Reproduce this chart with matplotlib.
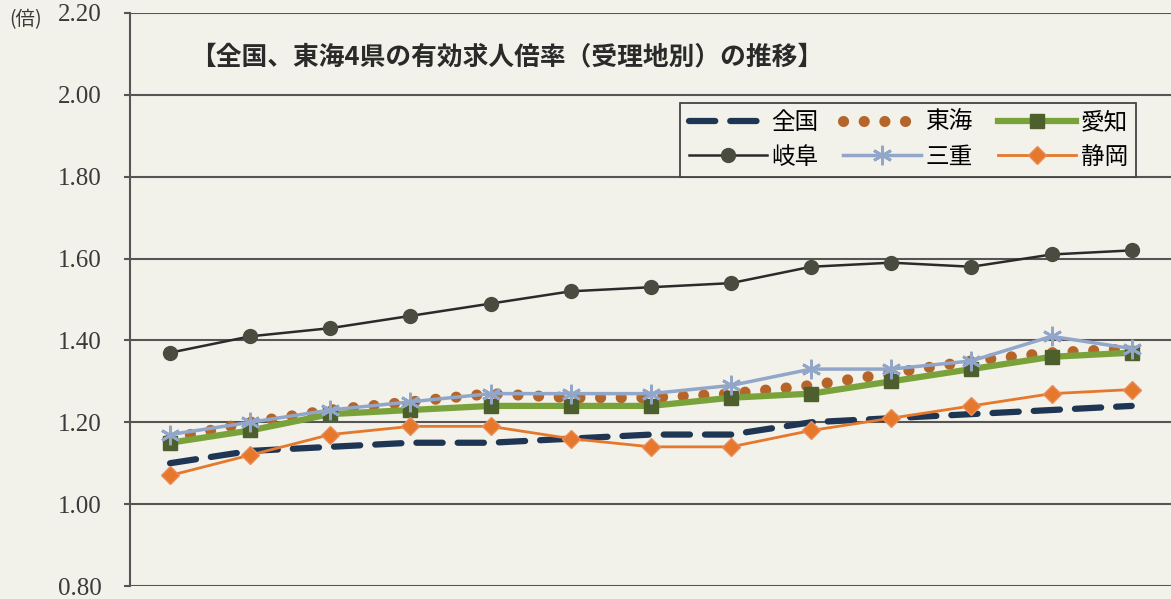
import matplotlib.pyplot as plt
import numpy as np

plt.rcParams['font.family'] = ['Noto Sans CJK JP', 'DejaVu Sans']

# 有効求人倍率（受理地別）, 13 periods
periods = np.arange(13)
zenkoku = [1.10, 1.13, 1.14, 1.15, 1.15, 1.16, 1.17, 1.17, 1.20, 1.21, 1.22, 1.23, 1.24]
tokai = [1.16, 1.20, 1.23, 1.25, 1.27, 1.26, 1.26, 1.27, 1.29, 1.32, 1.35, 1.37, 1.38]
aichi = [1.15, 1.18, 1.22, 1.23, 1.24, 1.24, 1.24, 1.26, 1.27, 1.30, 1.33, 1.36, 1.37]
gifu = [1.37, 1.41, 1.43, 1.46, 1.49, 1.52, 1.53, 1.54, 1.58, 1.59, 1.58, 1.61, 1.62]
mie = [1.17, 1.20, 1.23, 1.25, 1.27, 1.27, 1.27, 1.29, 1.33, 1.33, 1.35, 1.41, 1.38]
shizuoka = [1.07, 1.12, 1.17, 1.19, 1.19, 1.16, 1.14, 1.14, 1.18, 1.21, 1.24, 1.27, 1.28]

y_ticks = [0.80, 1.00, 1.20, 1.40, 1.60, 1.80, 2.00, 2.20]
bg = '#f2f1ea'
grid_c = '#555555'

fig = plt.figure(figsize=(11.71, 5.99), dpi=100, facecolor=bg)
ax = fig.add_axes([0.111, 0.0217, 0.889, 0.9566], facecolor=bg)

for v in y_ticks:
    ax.axhline(v, color=grid_c, lw=1.5, zorder=1)

l_zen, = ax.plot(periods, zenkoku, color='#1e3554', lw=4.5, dashes=(4.2, 2.4),
                 dash_capstyle='round', zorder=3, label='全国')
l_tok, = ax.plot(periods, tokai, color='#b5652a', lw=8, dashes=(0.01, 1.85),
                 dash_capstyle='round', zorder=3, label='東海')
l_aic, = ax.plot(periods, aichi, color='#7aa23a', lw=4.5, marker='s', ms=9.5,
                 mfc='#4d5f2c', mec='#4d5f2c', zorder=4, label='愛知')
l_gif, = ax.plot(periods, gifu, color='#2b2b2b', lw=1.8, marker='o', ms=10,
                 mfc='#4a4c40', mec='#4a4c40', zorder=4, label='岐阜')
l_mie, = ax.plot(periods, mie, color='#91a6c8', lw=2.5, marker=(6, 2, 0), ms=14,
                 mec='#91a6c8', mew=2, zorder=5, label='三重')
l_shi, = ax.plot(periods, shizuoka, color='#e5782a', lw=2, marker='D', ms=9,
                 mfc='#e5782a', mec='#e88c5a', zorder=5, label='静岡')

ax.set_xlim(-0.5, 12.49)
ax.set_ylim(0.80, 2.20)
ax.set_yticks(y_ticks)
ax.set_yticklabels([f'{v:.2f}' for v in y_ticks], family='Liberation Serif',
                   fontsize=18, color='#3a3a3a')
ax.tick_params(axis='y', length=4.5, width=1.5, color=grid_c, pad=16)
ax.set_xticks([])
for side in ['top', 'right', 'bottom']:
    ax.spines[side].set_visible(False)
ax.spines['left'].set_color(grid_c)
ax.spines['left'].set_linewidth(1.5)

fig.text(0.008, 0.967, '(倍)', fontsize=14, color='#3a3a3a', va='center')

fig.text(0.433, 0.905, '【全国、東海4県の有効求人倍率（受理地別）の推移】',
         fontsize=18.5, fontweight='bold', color='#2a2a2a', ha='center', va='center')

handles = [l_zen, l_gif, l_tok, l_mie, l_aic, l_shi]
leg = fig.legend(handles=handles, labels=[h.get_label() for h in handles],
                 ncol=3, loc='upper left', bbox_to_anchor=(0.581, 0.828),
                 borderaxespad=0, fontsize=17, frameon=True, fancybox=False,
                 handlelength=3.3, columnspacing=1.05, handletextpad=0.2,
                 labelspacing=0.48, borderpad=0.35, facecolor=bg, framealpha=1,
                 edgecolor='#444444')
leg.get_frame().set_linewidth(1.3)

fig.savefig('out.png', dpi=100, facecolor=bg)
